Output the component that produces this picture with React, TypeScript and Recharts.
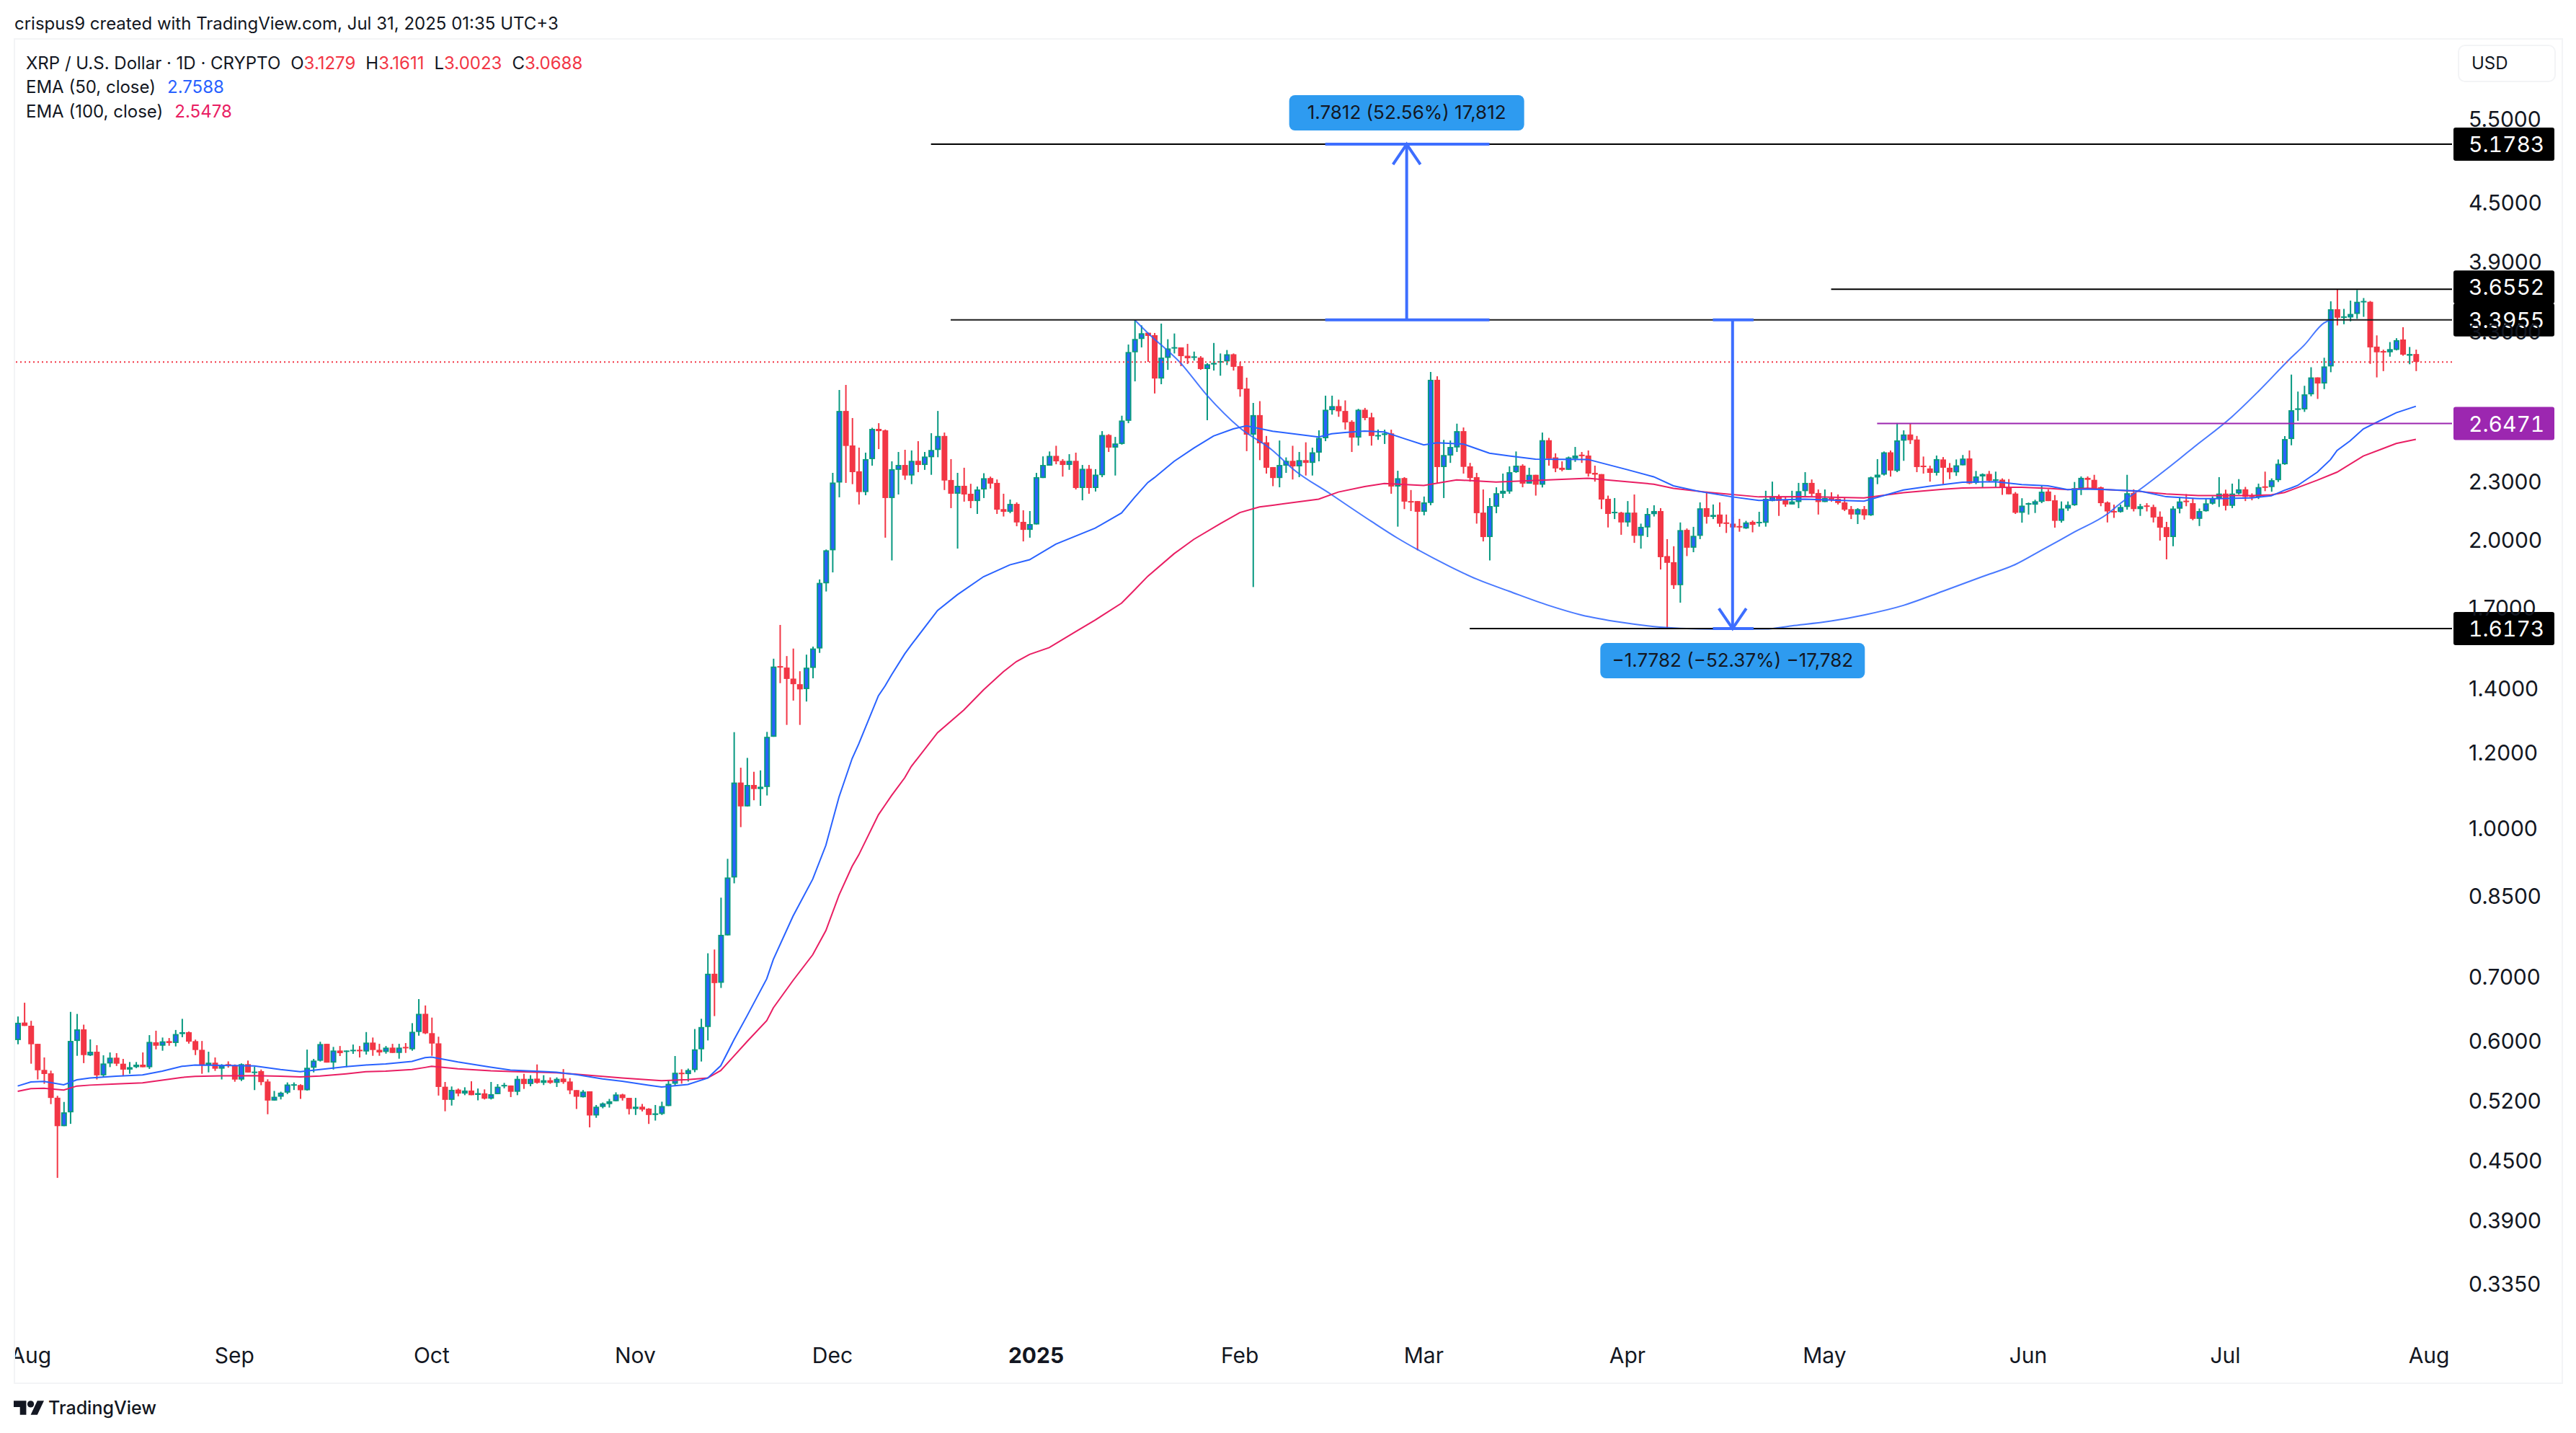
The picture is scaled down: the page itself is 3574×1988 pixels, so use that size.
import { Bar, ComposedChart, Line, ReferenceDot, ReferenceLine, XAxis, YAxis } from "recharts";

const INK = "#131722";
const UP = "#089981";
const UP_BODY = "#2962FF";
const DOWN = "#F23645";
const TOOL = "#3D6EFF";
const FONT = "Inter, 'Noto Sans', sans-serif";

const opens = [
  .6018,.6277,.6229,.5964,.5602,.5556,.5240,.4894,.5059,.6005,
  .6175,.5800,.5852,.5529,.5689,.5769,.5686,.5606,.5639,.5673,
  .5638,.5986,.5937,.6003,.5976,.6106,.6133,.6003,.5879,.5667,
  .5700,.5618,.5680,.5667,.5473,.5680,.5567,.5585,.5448,.5204,
  .5252,.5304,.5402,.5402,.5335,.5631,.5726,.5964,.5701,.5869,
  .5859,.5869,.5879,.5855,.5982,.5879,.5849,.5910,.5835,.5920,
  .5886,.6136,.6410,.6119,.5971,.5380,.5213,.5343,.5292,.5331,
  .5275,.5295,.5228,.5285,.5394,.5396,.5315,.5483,.5415,.5486,
  .5430,.5465,.5430,.5486,.5448,.5337,.5246,.5321,.5021,.5125,
  .5160,.5196,.5281,.5238,.5100,.5128,.5104,.5027,.5039,.5136,
  .5418,.5564,.5546,.5600,.5886,.6210,.7058,.6906,.7739,.8894,
  1.1173,1.0550,1.1108,1.0999,1.1053,1.2470,1.4778,1.4727,1.4341,1.4151,
  1.3985,1.4714,1.5418,1.803,1.952,2.297,2.728,2.511,2.360,2.245,
  2.430,2.613,2.604,2.213,2.368,2.396,2.336,2.420,2.396,2.441,
  2.484,2.569,2.311,2.236,2.279,2.236,2.197,2.259,2.322,2.295,
  2.155,2.141,2.182,2.090,2.050,2.077,2.322,2.392,2.449,2.420,
  2.396,2.420,2.267,2.374,2.267,2.338,2.575,2.498,2.520,2.664,
  3.141,3.243,3.292,3.273,2.949,3.099,3.172,3.178,3.115,3.100,
  3.101,3.017,3.050,3.067,3.073,3.126,3.038,2.879,2.577,2.701,
  2.530,2.384,2.322,2.392,2.420,2.388,2.424,2.408,2.468,2.555,
  2.733,2.760,2.728,2.658,2.559,2.736,2.687,2.569,2.575,2.585,
  2.275,2.322,2.197,2.197,2.141,2.187,2.940,2.384,2.451,2.499,
  2.599,2.388,2.327,2.137,2.015,2.167,2.236,2.248,2.355,2.392,
  2.291,2.340,2.285,2.543,2.440,2.380,2.368,2.432,2.456,2.451,
  2.351,2.344,2.209,2.134,2.137,2.087,2.137,2.021,2.062,2.129,
  2.145,1.925,1.897,1.795,2.050,1.964,2.021,2.160,2.115,2.127,
  2.087,2.081,2.069,2.057,2.090,2.085,2.085,2.197,2.222,2.203,
  2.179,2.192,2.250,2.295,2.240,2.192,2.213,2.209,2.190,2.155,
  2.127,2.155,2.123,2.325,2.341,2.470,2.362,2.540,2.578,2.547,
  2.392,2.376,2.351,2.428,2.380,2.354,2.394,2.434,2.295,2.331,
  2.345,2.311,2.313,2.268,2.237,2.136,2.178,2.178,2.193,2.248,
  2.201,2.095,2.158,2.175,2.264,2.323,2.312,2.271,2.190,2.145,
  2.140,2.166,2.240,2.155,2.174,2.166,2.116,2.064,2.015,2.157,
  2.199,2.186,2.105,2.144,2.183,2.210,2.237,2.172,2.237,2.260,
  2.228,2.218,2.276,2.272,2.310,2.400,2.550,2.735,2.738,2.839,
  2.957,2.914,3.036,3.483,3.412,3.415,3.444,3.546,3.546,3.184,
  3.150,3.141,3.159,3.239,3.115,3.1279,
];

const highs = [
  .6369,.6583,.6303,.5964,.5772,.5592,.5264,.5187,.6440,.6408,
  .6245,.6028,.5945,.5802,.5842,.5832,.5752,.5709,.5709,.5842,
  .6090,.6155,.6055,.6048,.6166,.6333,.6144,.6025,.6005,.5852,
  .5772,.5680,.5718,.5676,.5690,.5729,.5645,.5607,.5477,.5326,
  .5316,.5436,.5436,.5412,.5882,.5752,.5994,.5964,.5920,.5933,
  .5869,.5954,.5933,.6135,.6055,.5964,.5933,.5964,.5964,.5975,
  .6268,.6641,.6540,.6352,.6067,.5442,.5383,.5357,.5373,.5451,
  .5357,.5346,.5442,.5414,.5430,.5396,.5521,.5550,.5531,.5676,
  .5531,.5502,.5502,.5613,.5493,.5337,.5337,.5321,.5149,.5180,
  .5225,.5308,.5290,.5238,.5238,.5162,.5110,.5149,.5190,.5470,
  .5792,.5610,.5620,.6180,.6334,.7413,.7481,.8473,.9302,1.261,
  1.1578,1.1854,1.1465,1.1504,1.2618,1.5044,1.6315,1.5140,1.5415,1.4598,
  1.5191,1.5487,1.82,1.9557,2.351,2.869,2.904,2.682,2.498,2.468,
  2.620,2.649,2.609,2.417,2.472,2.485,2.481,2.537,2.472,2.586,
  2.728,2.590,2.430,2.351,2.380,2.290,2.275,2.349,2.330,2.314,
  2.236,2.205,2.190,2.149,2.145,2.351,2.446,2.475,2.509,2.430,
  2.459,2.468,2.396,2.396,2.372,2.599,2.580,2.563,2.697,3.200,
  3.3955,3.351,3.292,3.290,3.365,3.241,3.286,3.178,3.205,3.146,
  3.112,3.060,3.212,3.132,3.158,3.132,3.069,2.955,2.781,2.793,
  2.569,2.384,2.541,2.440,2.509,2.472,2.530,2.498,2.604,2.830,
  2.830,2.803,2.798,2.668,2.742,2.748,2.716,2.609,2.608,2.608,
  2.363,2.327,2.256,2.197,2.221,2.996,2.965,2.545,2.541,2.646,
  2.622,2.408,2.351,2.259,2.213,2.271,2.347,2.388,2.475,2.400,
  2.380,2.340,2.590,2.557,2.464,2.417,2.445,2.502,2.472,2.481,
  2.392,2.344,2.226,2.213,2.141,2.197,2.232,2.081,2.160,2.175,
  2.160,2.005,1.971,2.087,2.057,2.065,2.190,2.248,2.179,2.190,
  2.127,2.115,2.105,2.095,2.097,2.141,2.252,2.302,2.232,2.217,
  2.252,2.295,2.355,2.314,2.259,2.259,2.244,2.232,2.217,2.171,
  2.160,2.171,2.330,2.430,2.475,2.481,2.650,2.604,2.649,2.569,
  2.445,2.392,2.451,2.442,2.407,2.428,2.454,2.481,2.362,2.348,
  2.362,2.358,2.320,2.316,2.245,2.212,2.189,2.204,2.281,2.260,
  2.229,2.195,2.195,2.300,2.331,2.331,2.340,2.275,2.195,2.178,
  2.178,2.340,2.260,2.182,2.186,2.178,2.143,2.090,2.170,2.218,
  2.234,2.213,2.158,2.208,2.222,2.327,2.258,2.291,2.316,2.273,
  2.238,2.291,2.358,2.320,2.428,2.568,2.977,2.858,2.898,3.030,
  2.957,3.100,3.550,3.6552,3.486,3.556,3.648,3.578,3.553,3.271,
  3.161,3.219,3.249,3.336,3.181,3.1611,
];

const lows = [
  .5958,.6226,.5686,.5475,.5418,.5160,.4322,.4894,.4921,.5795,
  .5694,.5792,.5475,.5508,.5640,.5655,.5517,.5550,.5626,.5638,
  .5615,.5885,.5866,.5937,.5927,.6060,.5967,.5805,.5550,.5569,
  .5589,.5475,.5633,.5445,.5454,.5567,.5337,.5400,.5036,.5204,
  .5218,.5286,.5338,.5225,.5330,.5569,.5716,.5701,.5607,.5792,
  .5638,.5822,.5772,.5812,.5795,.5795,.5825,.5835,.5755,.5835,
  .5866,.6082,.6105,.5795,.5267,.5072,.5142,.5258,.5272,.5272,
  .5207,.5218,.5218,.5285,.5360,.5248,.5272,.5352,.5386,.5420,
  .5402,.5418,.5377,.5418,.5285,.5100,.5243,.4880,.4993,.5108,
  .5117,.5196,.5204,.5033,.5027,.5070,.4920,.4960,.5027,.5136,
  .5386,.5420,.5448,.5571,.5716,.6013,.6375,.6821,.7739,.8770,
  1.0038,1.0550,1.0707,1.0564,1.0831,1.2470,1.4186,1.2832,1.3604,1.2832,
  1.3573,1.4352,1.5256,1.768,1.851,2.217,2.295,2.288,2.179,2.228,
  2.392,2.489,2.012,1.905,2.232,2.312,2.288,2.355,2.368,2.340,
  2.441,2.256,2.160,1.960,2.194,2.160,2.130,2.213,2.264,2.130,
  2.117,2.134,2.068,1.994,2.012,2.077,2.322,2.392,2.400,2.330,
  2.368,2.259,2.201,2.236,2.248,2.327,2.472,2.336,2.516,2.649,
  2.929,3.178,3.069,2.845,2.909,3.011,3.132,3.038,3.054,3.079,
  3.011,2.668,3.006,2.969,3.046,3.006,2.823,2.477,1.787,2.424,
  2.347,2.277,2.271,2.351,2.314,2.327,2.336,2.336,2.417,2.537,
  2.704,2.690,2.609,2.472,2.510,2.668,2.510,2.545,2.520,2.236,
  2.066,2.155,2.145,1.952,2.123,2.175,2.295,2.213,2.408,2.472,
  2.347,2.302,2.081,1.994,1.905,2.134,2.213,2.236,2.351,2.271,
  2.291,2.226,2.270,2.392,2.355,2.360,2.368,2.414,2.408,2.330,
  2.302,2.155,2.062,2.104,2.026,2.066,1.987,1.960,2.015,2.117,
  1.864,1.6173,1.779,1.721,1.925,1.943,2.005,2.081,2.104,2.065,
  2.035,2.057,2.041,2.055,2.038,2.066,2.066,2.196,2.120,2.167,
  2.179,2.160,2.222,2.222,2.127,2.192,2.194,2.179,2.145,2.104,
  2.079,2.101,2.120,2.288,2.336,2.330,2.355,2.420,2.520,2.355,
  2.347,2.302,2.336,2.288,2.316,2.334,2.394,2.288,2.288,2.267,
  2.299,2.270,2.230,2.233,2.130,2.086,2.127,2.135,2.186,2.197,
  2.061,2.086,2.146,2.172,2.229,2.263,2.258,2.170,2.087,2.110,
  2.137,2.152,2.143,2.120,2.143,2.087,1.998,1.910,1.971,2.133,
  2.170,2.098,2.069,2.142,2.178,2.166,2.148,2.160,2.232,2.197,
  2.201,2.208,2.250,2.247,2.300,2.397,2.512,2.664,2.722,2.826,
  2.808,2.875,2.994,3.350,3.360,3.383,3.404,3.420,3.055,2.957,
  3.002,3.108,3.155,3.115,3.052,3.0023,
];

const closes = [
  .6274,.6226,.5958,.5597,.5547,.5237,.4894,.5059,.6006,.6175,
  .5805,.5852,.5529,.5689,.5769,.5686,.5606,.5639,.5673,.5638,
  .5992,.5937,.6000,.5976,.6106,.6133,.5995,.5876,.5670,.5700,
  .5618,.5670,.5660,.5473,.5680,.5567,.5579,.5440,.5204,.5252,
  .5304,.5409,.5412,.5335,.5631,.5729,.5961,.5701,.5869,.5832,
  .5869,.5879,.5869,.5982,.5876,.5842,.5910,.5835,.5910,.5910,
  .6139,.6410,.6116,.5968,.5377,.5213,.5340,.5292,.5331,.5272,
  .5298,.5228,.5285,.5380,.5403,.5315,.5483,.5415,.5483,.5430,
  .5465,.5430,.5483,.5440,.5333,.5252,.5317,.5021,.5128,.5169,
  .5196,.5281,.5235,.5100,.5128,.5092,.5027,.5047,.5136,.5418,
  .5564,.5546,.5600,.5886,.6210,.7058,.6901,.7749,.8894,1.1173,
  1.0550,1.1108,1.0999,1.1061,1.2470,1.4763,1.4752,1.4330,1.4151,1.3975,
  1.4724,1.5418,1.805,1.952,2.297,2.728,2.508,2.355,2.245,2.430,
  2.613,2.599,2.213,2.372,2.396,2.336,2.420,2.396,2.445,2.484,
  2.569,2.308,2.236,2.279,2.232,2.197,2.259,2.321,2.291,2.152,
  2.141,2.182,2.087,2.050,2.079,2.327,2.396,2.449,2.417,2.396,
  2.420,2.267,2.374,2.267,2.341,2.575,2.498,2.523,2.666,3.143,
  3.243,3.288,3.267,2.949,3.101,3.170,3.180,3.112,3.096,3.110,
  3.017,3.052,3.062,3.075,3.126,3.033,2.874,2.577,2.701,2.524,
  2.380,2.322,2.396,2.420,2.388,2.424,2.408,2.470,2.557,2.736,
  2.760,2.726,2.654,2.559,2.736,2.682,2.569,2.575,2.585,2.275,
  2.321,2.194,2.194,2.141,2.190,2.940,2.384,2.454,2.502,2.599,
  2.385,2.322,2.134,2.015,2.171,2.239,2.252,2.355,2.392,2.291,
  2.340,2.285,2.543,2.432,2.376,2.368,2.440,2.451,2.447,2.347,
  2.341,2.205,2.130,2.141,2.087,2.137,2.021,2.065,2.130,2.145,
  1.920,1.894,1.795,2.049,1.964,2.021,2.159,2.115,2.125,2.081,
  2.082,2.062,2.062,2.087,2.075,2.090,2.209,2.222,2.198,2.179,
  2.195,2.250,2.295,2.236,2.192,2.213,2.209,2.187,2.152,2.127,
  2.155,2.123,2.326,2.341,2.470,2.364,2.542,2.578,2.543,2.384,
  2.385,2.351,2.430,2.380,2.354,2.394,2.433,2.292,2.331,2.344,
  2.307,2.315,2.268,2.233,2.136,2.173,2.186,2.196,2.247,2.197,
  2.095,2.158,2.177,2.266,2.323,2.312,2.258,2.186,2.143,2.140,
  2.166,2.239,2.155,2.170,2.168,2.112,2.061,2.015,2.158,2.195,
  2.192,2.105,2.145,2.185,2.210,2.237,2.172,2.237,2.260,2.219,
  2.218,2.272,2.268,2.310,2.403,2.550,2.733,2.745,2.839,2.957,
  2.914,3.036,3.483,3.413,3.424,3.444,3.546,3.553,3.178,3.141,
  3.143,3.165,3.234,3.123,3.128,3.0688,
];

// EMA and curve values read at the days where they could be read
const ema50Days = [0,2,4,7,9,11,15,19,22,25,27,31,36,40,43,46,50,53,56,60,62,63,67,72,75,82,85,89,92,96,98,102,105,107,109,111,114,115,118,121,123,125,127,128,131,132,133,135,136,140,143,147,151,154,158,164,168,170,172,173,176,179,182,185,187,191,198,200,202,205,208,211,214,216,220,224,227,231,239,245,249,252,256,261,265,272,281,287,291,296,301,305,309,312,315,318,323,327,332,335,340,343,345,346,347,350,352,353,355,357,359,362,365];
const ema50Values = [.5389,.5442,.5448,.5405,.5470,.5493,.5517,.5534,.5585,.5650,.5669,.5662,.5655,.5606,.5577,.5606,.5645,.5669,.5682,.5718,.5770,.5778,.5709,.5638,.5600,.5571,.5539,.5483,.5451,.5400,.5377,.5409,.5493,.5658,.6019,.6378,.6972,.7303,.8105,.8858,.9608,1.0789,1.1837,1.2257,1.3765,1.4087,1.4472,1.5219,1.5551,1.6892,1.754,1.832,1.885,1.908,1.981,2.059,2.135,2.217,2.297,2.324,2.417,2.495,2.569,2.613,2.632,2.598,2.563,2.583,2.590,2.599,2.594,2.553,2.514,2.527,2.520,2.465,2.449,2.430,2.428,2.369,2.329,2.279,2.248,2.219,2.200,2.207,2.197,2.256,2.277,2.299,2.302,2.286,2.279,2.258,2.261,2.258,2.250,2.220,2.210,2.210,2.214,2.225,2.255,2.267,2.281,2.355,2.427,2.481,2.539,2.613,2.654,2.716,2.7588];

const ema100Days = [0,2,4,7,9,11,15,19,22,25,27,31,36,40,43,46,50,53,56,60,62,63,67,72,75,82,85,89,92,96,98,102,105,107,109,111,114,115,118,121,123,125,127,128,131,132,133,135,136,140,144,147,150,152,154,157,161,164,168,170,172,176,179,183,186,189,191,198,201,205,208,214,219,225,239,249,252,257,265,272,281,287,293,296,301,305,309,312,315,318,323,327,332,335,340,343,345,346,350,353,357,362,365];
const ema100Values = [.5321,.5355,.5360,.5337,.5389,.5401,.5416,.5431,.5465,.5502,.5516,.5522,.5525,.5517,.5508,.5521,.5550,.5577,.5585,.5607,.5635,.5650,.5616,.5589,.5580,.5564,.5545,.5516,.5493,.5470,.5458,.5473,.5493,.5593,.5791,.5996,.6305,.6502,.6944,.7387,.7828,.8523,.9137,.9388,1.0340,1.0582,1.0830,1.1301,1.1612,1.2594,1.330,1.396,1.458,1.494,1.520,1.545,1.605,1.651,1.719,1.775,1.834,1.936,2.004,2.080,2.137,2.166,2.175,2.207,2.245,2.275,2.292,2.281,2.312,2.300,2.321,2.288,2.265,2.245,2.219,2.220,2.214,2.242,2.260,2.267,2.270,2.271,2.265,2.258,2.266,2.258,2.248,2.235,2.226,2.226,2.226,2.230,2.243,2.256,2.310,2.355,2.448,2.523,2.5478];

const cupDays = [170,172,177,181,186,191,194,200,206,210,213,218,222,227,233,238,244,250,256,261,266,270,276,281,287,293,299,304,308,313,318,320,323,326,329,331,337,341,346,348,351,352];
const cupValues = [3.3955,3.290,3.060,2.833,2.620,2.481,2.376,2.230,2.093,2.010,1.956,1.877,1.822,1.769,1.710,1.671,1.642,1.623,1.6157,1.6150,1.6157,1.628,1.647,1.671,1.710,1.769,1.832,1.886,1.952,2.039,2.129,2.184,2.259,2.342,2.431,2.494,2.690,2.858,3.100,3.195,3.370,3.3955];

const monthDays = [2,33,63,94,124,155,186,214,245,275,306,336,367];
const monthLabels = ["Aug","Sep","Oct","Nov","Dec","2025","Feb","Mar","Apr","May","Jun","Jul","Aug"];
const priceTicks = [5.5,4.5,3.9,3.3,2.3,2.0,1.7,1.4,1.2,1.0,.85,.7,.6,.52,.45,.39,.335];

const LAST_PRICE = 3.0688;
const TARGET = 5.1783;
const PEAK = 3.6552;
const NECK = 3.3955;
const SUPPORT = 2.6471;
const BOTTOM = 1.6173;

const rows = opens.map((open, i) => ({
  day: i,
  open,
  high: highs[i],
  low: lows[i],
  close: closes[i],
  range: [lows[i], highs[i]],
  ema50: ema50Values[ema50Days.indexOf(i)] ?? null,
  ema100: ema100Values[ema100Days.indexOf(i)] ?? null,
  cup: cupValues[cupDays.indexOf(i)] ?? null,
}));

function Candle(props: any) {
  const { x, y, width, height, payload } = props;
  const { open, close, high, low } = payload;
  const span = Math.log(high) - Math.log(low) || 1;
  const priceY = (p: number) => y + (height * (Math.log(high) - Math.log(p))) / span;
  const top = priceY(Math.max(open, close));
  const bodyH = Math.max(priceY(Math.min(open, close)) - top, 2);
  const isUp = close >= open;
  const edge = isUp ? UP : DOWN;
  const cx = x + width / 2;
  return (
    <g>
      <rect x={cx - 1} y={y} width={2} height={Math.max(height, 1)} fill={edge} />
      <rect x={cx - 4} y={top} width={8} height={bodyH} fill={edge} />
      {isUp && bodyH > 4 && <rect x={cx - 2} y={top + 2} width={4} height={bodyH - 4} fill={UP_BODY} />}
    </g>
  );
}

function MonthTick({ x, y, payload }: any) {
  const label = monthLabels[monthDays.indexOf(payload.value)];
  return (
    <text x={x} y={y + 35} textAnchor="middle" fontFamily={FONT} fontSize={30} fontWeight={label === "2025" ? 700 : 400} fill={INK}>
      {label}
    </text>
  );
}

function priceTag(text: string, fill: string, shift = 0) {
  return ({ cx, cy }: any) => (
    <g>
      <rect x={cx + 2} y={cy - 23 + shift} width={140} height={46} rx={3} fill={fill} />
      <text x={cx + 23} y={cy + 11 + shift} fontFamily={FONT} fontSize={30} fill="#ffffff" style={{ fontVariantNumeric: "tabular-nums" }}>
        {text}
      </text>
    </g>
  );
}

function pill(text: string, width: number, offset: number) {
  return ({ cx, cy }: any) => (
    <g>
      <rect x={cx - width / 2} y={cy + offset} width={width} height={49} rx={8} fill="#2E9BF0" />
      <text x={cx} y={cy + offset + 33} textAnchor="middle" fontFamily={FONT} fontSize={26} fill={INK}>
        {text}
      </text>
    </g>
  );
}

function arrowHead(dir: number) {
  return ({ cx, cy }: any) => (
    <path d={`M${cx - 19} ${cy + dir * 28} L${cx} ${cy} L${cx + 19} ${cy + dir * 28}`} fill="none" stroke={TOOL} strokeWidth={4} />
  );
}

const levelLine = (from: number, to: number, price: number, color: string, width = 2) => (
  <ReferenceLine
    ifOverflow="visible"
    segment={[{ x: from, y: price }, { x: to, y: price }]}
    stroke={color}
    strokeWidth={width}
  />
);

const abs = (left: number, top: number, extra: any = {}) => ({ position: "absolute" as const, left, top, whiteSpace: "nowrap" as const, ...extra });

export default function App() {
  return (
    <div style={{ position: "absolute", left: 0, top: 0, width: 3574, height: 1988, background: "#fff", overflow: "hidden", fontFamily: FONT, color: INK }}>
      <div style={abs(20, 18, { fontSize: 24 })}>crispus9 created with TradingView.com, Jul 31, 2025 01:35 UTC+3</div>

      <div style={{ position: "absolute", left: 0, top: 0 }}>
        <ComposedChart width={3574} height={1988} data={rows} margin={{ top: 54, right: 0, bottom: 0, left: 20 }}>
          <XAxis
            dataKey="day"
            type="number"
            domain={[-0.5, 370.5]}
            ticks={monthDays}
            interval={0}
            height={140}
            axisLine={false}
            tickLine={false}
            tick={<MonthTick />}
          />
          <YAxis
            orientation="right"
            width={172}
            scale="log"
            domain={[0.2984, 6.668]}
            allowDataOverflow
            ticks={priceTicks}
            interval={0}
            axisLine={false}
            tickLine={false}
            tickSize={0}
            tickMargin={23}
            tickFormatter={(v: number) => v.toFixed(4)}
            tick={{ fill: INK, fontSize: 30, fontFamily: FONT, textAnchor: "start" }}
          />
          <Line dataKey="cup" type="monotone" connectNulls stroke="#2962FF" strokeWidth={2} strokeOpacity={0.85} dot={false} activeDot={false} isAnimationActive={false} />
          <Line dataKey="ema100" type="linear" connectNulls stroke="#E91E63" strokeWidth={2} dot={false} activeDot={false} isAnimationActive={false} />
          <Line dataKey="ema50" type="linear" connectNulls stroke="#2962FF" strokeWidth={2} dot={false} activeDot={false} isAnimationActive={false} />
          <Bar dataKey="range" barSize={8} shape={<Candle />} isAnimationActive={false} />

          <ReferenceLine y={LAST_PRICE} stroke={DOWN} strokeWidth={2} strokeDasharray="2 4" />
          {levelLine(139, 370.5, TARGET, "#000000")}
          {levelLine(276, 370.5, PEAK, "#000000")}
          {levelLine(142, 370.5, NECK, "#1c1c1c")}
          {levelLine(221, 370.5, BOTTOM, "#000000")}
          {levelLine(283, 370.5, SUPPORT, "#9C27B0")}

          {levelLine(199, 224, NECK, TOOL, 4)}
          {levelLine(199, 224, TARGET, TOOL, 4)}
          <ReferenceLine ifOverflow="visible" segment={[{ x: 211.4, y: NECK }, { x: 211.4, y: TARGET }]} stroke={TOOL} strokeWidth={4} />
          <ReferenceDot ifOverflow="visible" x={211.4} y={TARGET} r={0} shape={arrowHead(1)} />
          <ReferenceDot ifOverflow="visible" x={211.4} y={TARGET} r={0} shape={pill("1.7812 (52.56%) 17,812", 326, -68)} />

          {levelLine(258, 264.2, NECK, TOOL, 4)}
          {levelLine(258, 264.2, BOTTOM, TOOL, 4)}
          <ReferenceLine ifOverflow="visible" segment={[{ x: 261, y: NECK }, { x: 261, y: BOTTOM }]} stroke={TOOL} strokeWidth={4} />
          <ReferenceDot ifOverflow="visible" x={261} y={BOTTOM} r={0} shape={arrowHead(-1)} />
          <ReferenceDot ifOverflow="visible" x={261} y={BOTTOM} r={0} shape={pill("−1.7782 (−52.37%) −17,782", 367, 20)} />

          <ReferenceDot ifOverflow="visible" x={370.5} y={TARGET} r={0} shape={priceTag("5.1783", "#000000")} />
          <ReferenceDot ifOverflow="visible" x={370.5} y={PEAK} r={0} shape={priceTag("3.6552", "#000000", -3)} />
          <ReferenceDot ifOverflow="visible" x={370.5} y={NECK} r={0} shape={priceTag("3.3955", "#000000")} />
          <ReferenceDot ifOverflow="visible" x={370.5} y={SUPPORT} r={0} shape={priceTag("2.6471", "#9C27B0")} />
          <ReferenceDot ifOverflow="visible" x={370.5} y={BOTTOM} r={0} shape={priceTag("1.6173", "#000000")} />
        </ComposedChart>
      </div>

      {/* page furniture around the plot */}
      <div style={abs(0, 0, { width: 19, height: 1988, background: "#fff" })} />
      <div style={abs(19, 53, { width: 3533, height: 1863, border: "2px solid #F3F4F6" })} />

      <div style={abs(36, 73, { fontSize: 24 })}>
        XRP / U.S. Dollar · 1D · CRYPTO
        {[["O", "3.1279"], ["H", "3.1611"], ["L", "3.0023"], ["C", "3.0688"]].map(([k, v]) => (
          <span key={k} style={{ marginLeft: 14 }}>
            {k}
            <span style={{ color: DOWN }}>{v}</span>
          </span>
        ))}
      </div>
      <div style={abs(36, 106, { fontSize: 24 })}>
        EMA (50, close)<span style={{ color: "#2962FF", marginLeft: 16 }}>2.7588</span>
      </div>
      <div style={abs(36, 140, { fontSize: 24 })}>
        EMA (100, close)<span style={{ color: "#E91E63", marginLeft: 16 }}>2.5478</span>
      </div>

      <div style={abs(3410, 62, { width: 136, height: 52, boxSizing: "border-box", border: "2px solid #F3F4F6", borderRadius: 10, fontSize: 24, lineHeight: "48px", paddingLeft: 17, background: "#fff" })}>
        USD
      </div>

      <svg style={abs(19, 1943)} width={42} height={20} viewBox="0 0 41 19">
        <path d="M0 0H17V19H8.5V8.5H0Z" fill={INK} />
        <circle cx="23" cy="4.5" r="4.5" fill={INK} />
        <path d="M32 0H41L32 19H23Z" fill={INK} />
      </svg>
      <div style={abs(67, 1938, { fontSize: 25, fontWeight: 500 })}>TradingView</div>
    </div>
  );
}
